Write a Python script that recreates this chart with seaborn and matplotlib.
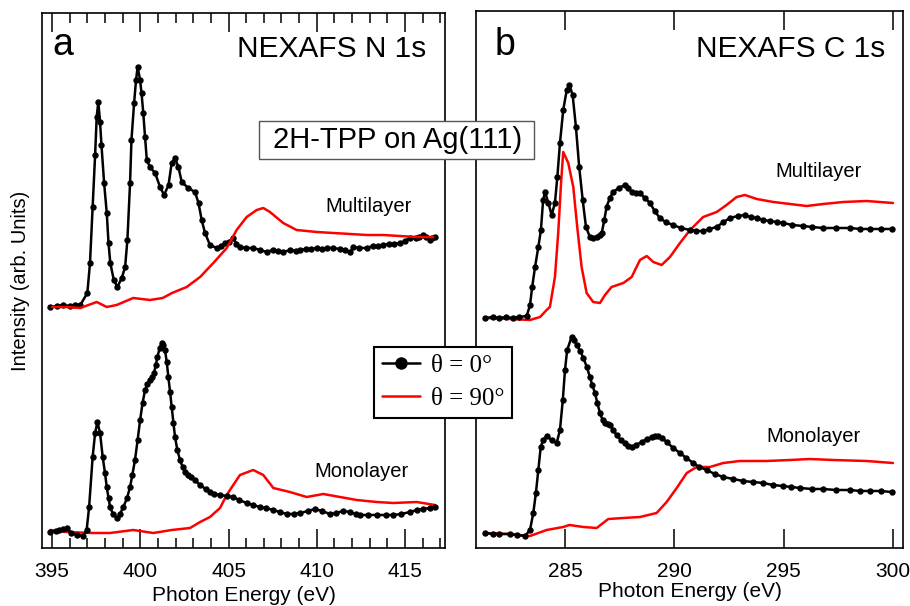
import numpy as np
import pandas as pd
import seaborn as sns
import matplotlib
matplotlib.use("Agg")
import matplotlib.pyplot as plt
from matplotlib.ticker import MultipleLocator
from matplotlib.patches import Rectangle

# ---------------- data (photon energy in eV, intensity in arb. units) ----------------
# Panel a: N 1s, multilayer, theta = 0
n_multi_0_x = [394.9, 395.3, 395.6, 396.0, 396.3, 396.6, 397.0, 397.15, 397.3, 397.44, 397.53, 397.62,
               397.72, 397.8, 397.95, 398.1, 398.2, 398.3, 398.5, 398.7, 398.95, 399.14, 399.27, 399.42,
               399.5, 399.65, 399.76, 399.85, 399.99, 400.07, 400.17, 400.27, 400.37, 400.55, 400.84,
               401.12, 401.35, 401.6, 401.78, 401.97, 402.16, 402.35, 402.72, 403.1, 403.3, 403.48,
               403.67, 403.95, 404.33, 404.6, 404.8, 405.0, 405.27, 405.45, 405.65, 406.0, 406.4,
               406.8, 407.16, 407.5, 407.8, 408.1, 408.5, 408.8, 409.05, 409.4, 409.7, 410.0, 410.3,
               410.6, 410.94, 411.3, 411.6, 411.9, 412.07, 412.4, 412.83, 413.2, 413.5, 413.77, 414.1,
               414.4, 414.7, 415.0, 415.28, 415.6, 415.8, 416.04, 416.2, 416.4, 416.55, 416.7]
n_multi_0_y = [241, 242, 243, 242, 243, 243, 255, 285, 341, 393, 431, 446,
               426, 403, 365, 335, 305, 285, 268, 261, 270, 281, 308, 365,
               408, 445, 468, 481, 468, 455, 435, 411, 388, 381, 375,
               361, 353, 363, 385, 390, 381, 366, 360, 356, 345, 328,
               315, 303, 300, 302, 305, 306, 310, 304, 301, 300, 300,
               298, 296, 298, 297, 296, 298, 297, 298, 299, 299, 300, 299,
               300, 300, 299, 298, 296, 301, 300, 300, 302, 302, 303, 304,
               304, 305, 307, 310, 310, 311, 313, 311, 308, 310, 311]
# Panel a: N 1s, multilayer, theta = 90
n_multi_90_x = [395.0, 395.8, 396.6, 397.53, 398.1, 398.66, 399.6, 400.55, 401.27, 401.8, 402.63,
                403.39, 404.14, 404.9, 405.46, 406.03, 406.6, 406.97, 407.35, 408.1, 408.86, 410.0,
                410.94, 411.9, 412.83, 413.77, 414.7, 415.65, 416.6]
n_multi_90_y = [241, 241, 240, 246, 241, 243, 250, 248, 250, 255, 261,
                271, 285, 300, 318, 331, 338, 340, 336, 325, 318, 316,
                315, 314, 313, 313, 312, 311, 311]
# Panel a: N 1s, monolayer, theta = 0
n_mono_0_x = [394.9, 395.2, 395.4, 395.6, 395.83, 396.1, 396.4, 396.77, 396.96, 397.1, 397.3, 397.44,
              397.57, 397.72, 397.87, 398.0, 398.1, 398.2, 398.29, 398.45, 398.67, 398.85, 399.04,
              399.25, 399.42, 399.55, 399.7, 399.85, 399.99, 400.13, 400.27, 400.4, 400.55, 400.66,
              400.78, 400.88, 400.97, 401.1, 401.21, 401.3, 401.4, 401.5, 401.59, 401.69, 401.78,
              401.88, 401.97, 402.1, 402.25, 402.4, 402.54, 402.7, 402.9, 403.1, 403.39, 403.7,
              403.95, 404.2, 404.52, 404.9, 405.27, 405.6, 406.03, 406.4, 406.78, 407.1, 407.54,
              407.9, 408.3, 408.7, 409.05, 409.5, 409.9, 410.3, 410.75, 411.1, 411.5, 411.9, 412.2,
              412.45, 412.9, 413.4, 413.9, 414.34, 414.8, 415.28, 415.7, 416.04, 416.4, 416.7]
n_mono_0_y = [16, 17, 18, 19, 20, 15, 13, 12, 18, 41, 91, 115,
              126, 115, 91, 75, 61, 50, 41, 34, 30, 34, 41,
              50, 61, 73, 88, 108, 128, 145, 158, 164, 168, 171,
              175, 183, 191, 200, 205, 203, 198, 186, 171, 156, 141,
              125, 111, 98, 88, 81, 76, 73, 71, 68, 63, 59,
              56, 54, 53, 52, 51, 48, 45, 43, 41, 40, 38,
              36, 34, 34, 35, 37, 39, 37, 34, 35, 37, 36, 34,
              33, 33, 33, 33, 33, 34, 36, 38, 39, 40, 41]
# Panel a: N 1s, monolayer, theta = 90
n_mono_90_x = [394.9, 395.83, 397.3, 398.29, 399.6, 400.74, 401.78, 402.82, 403.39, 403.95, 404.52,
               404.9, 405.27, 405.65, 406.4, 406.97, 407.54, 408.48, 409.43, 410.37, 411.32, 412.26,
               413.4, 414.34, 415.66, 416.7]
n_mono_90_y = [18, 16, 15, 15, 18, 15, 18, 20, 26, 31, 40,
               53, 63, 73, 78, 73, 60, 56, 51, 54, 51, 48,
               46, 45, 46, 43]

# Panel b: C 1s, multilayer, theta = 0
c_multi_0_x = [281.34, 281.7, 282.0, 282.3, 282.6, 282.9, 283.25, 283.4, 283.5, 283.63, 283.78, 283.9,
               284.0, 284.09, 284.24, 284.39, 284.54, 284.65, 284.77, 284.92, 285.08, 285.2, 285.35,
               285.5, 285.65, 285.81, 285.96, 286.14, 286.3, 286.45, 286.58, 286.68, 286.8, 286.9,
               287.05, 287.2, 287.45, 287.74, 287.9, 288.05, 288.25, 288.43, 288.65, 288.89, 289.1,
               289.34, 289.6, 289.95, 290.3, 290.72, 291.0, 291.32, 291.6, 291.94, 292.25, 292.54,
               292.9, 293.23, 293.5, 293.77, 294.07, 294.37, 294.7, 294.98, 295.4, 295.9, 296.3,
               296.81, 297.4, 298.03, 298.5, 298.95, 299.45, 299.94]
c_multi_0_y = [230, 231, 230, 231, 230, 231, 232, 243, 261, 281, 301, 318,
               348, 356, 345, 333, 345, 371, 405, 438, 458, 463, 453,
               421, 381, 348, 321, 311, 310, 311, 313, 315, 328, 341,
               350, 356, 360, 363, 360, 356, 355, 355, 350, 345, 337,
               330, 326, 323, 320, 318, 317, 317, 319, 321, 326, 330,
               332, 333, 331, 330, 328, 327, 326, 325, 323, 322, 321,
               320, 320, 320, 319, 319, 319, 319]
# Panel b: C 1s, multilayer, theta = 90
c_multi_90_x = [281.34, 282.5, 283.4, 283.86, 284.16, 284.31, 284.54, 284.69, 284.82, 284.92, 285.15,
                285.38, 285.56, 285.76, 285.99, 286.29, 286.6, 286.83, 287.13, 287.67, 288.05, 288.43,
                288.74, 289.04, 289.42, 289.8, 290.26, 290.72, 291.32, 291.94, 292.39, 292.85, 293.23,
                293.77, 294.53, 295.29, 296.05, 296.81, 297.73, 298.8, 300.0]
c_multi_90_y = [230, 229, 228, 231, 238, 241, 271, 315, 365, 396, 385,
                361, 321, 281, 255, 246, 245, 253, 261, 265, 271, 288,
                292, 286, 283, 291, 305, 318, 331, 336, 343, 351, 353,
                349, 346, 344, 342, 344, 346, 347, 345]
# Panel b: C 1s, monolayer, theta = 0
c_mono_0_x = [281.34, 281.7, 282.0, 282.49, 282.8, 283.17, 283.4, 283.55, 283.67, 283.78, 283.89,
              284.0, 284.16, 284.39, 284.62, 284.77, 284.9, 285.0, 285.1, 285.3, 285.42, 285.53,
              285.7, 285.84, 286.0, 286.14, 286.25, 286.37, 286.48, 286.6, 286.72, 286.83, 286.95,
              287.06, 287.2, 287.36, 287.55, 287.74, 287.9, 288.05, 288.25, 288.5, 288.75, 288.96,
              289.1, 289.27, 289.45, 289.65, 289.95, 290.26, 290.55, 290.87, 291.15, 291.48, 291.85,
              292.24, 292.7, 293.15, 293.6, 294.07, 294.5, 294.98, 295.35, 295.75, 296.3, 296.81,
              297.4, 298.03, 298.5, 298.95, 299.45, 299.94]
c_mono_0_y = [15, 14, 14, 14, 13, 12, 18, 35, 55, 78, 101,
              108, 112, 108, 105, 118, 148, 178, 198, 211, 208, 203,
              197, 190, 181, 171, 163, 155, 145, 135, 128, 125, 124,
              123, 118, 113, 108, 105, 102, 101, 103, 106, 109, 111,
              112, 112, 110, 106, 100, 95, 90, 85, 81, 78, 74,
              71, 69, 67, 66, 65, 63, 62, 61, 60, 59, 59,
              58, 58, 57, 57, 57, 56]
# Panel b: C 1s, monolayer, theta = 90
c_mono_90_x = [281.34, 282.4, 283.4, 284.16, 284.92, 285.2, 285.84, 286.45, 286.98, 287.67, 288.43,
               289.19, 289.65, 290.11, 290.57, 291.02, 291.63, 292.24, 293.0, 294.22, 295.29, 296.2,
               297.27, 298.8, 300.0]
c_mono_90_y = [15, 14, 12, 18, 21, 23, 21, 20, 29, 30, 31,
               35, 46, 60, 75, 81, 81, 85, 87, 87, 88, 89,
               88, 87, 85]

n_ticks = [395, 400, 405, 410, 415]
c_ticks = [285, 290, 295, 300]
legend_labels = ["θ = 0°", "θ = 90°"]

# ---------------- figure ----------------
sns.set_style("white")
plt.rcParams["font.family"] = ["Liberation Sans", "DejaVu Sans"]
plt.rcParams["text.color"] = "black"
plt.rcParams["axes.labelcolor"] = "black"
plt.rcParams["xtick.color"] = "black"
plt.rcParams["ytick.color"] = "black"

W, H = 910, 606
fig = plt.figure(figsize=(W / 100, H / 100), dpi=100)

def px_axes(x0, y0, x1, y1):
    return fig.add_axes([x0 / W, 1 - y1 / H, (x1 - x0) / W, (y1 - y0) / H])

axL = px_axes(42, 13, 445, 548)
axR = px_axes(476, 11, 903, 548)

black_kw = dict(color="black", lw=1.8, marker="o", markersize=4.6, markeredgewidth=0,
                estimator=None, legend=False)
red_kw = dict(color="#ff0000", lw=1.8, estimator=None, legend=False)

sns.lineplot(x=n_multi_0_x, y=n_multi_0_y, ax=axL, **black_kw)
sns.lineplot(x=n_multi_90_x, y=n_multi_90_y, ax=axL, **red_kw)
sns.lineplot(x=n_mono_90_x, y=n_mono_90_y, ax=axL, **red_kw)
sns.lineplot(x=n_mono_0_x, y=n_mono_0_y, ax=axL, **black_kw)

sns.lineplot(x=c_multi_90_x, y=c_multi_90_y, ax=axR, **red_kw)
sns.lineplot(x=c_multi_0_x, y=c_multi_0_y, ax=axR, **black_kw)
sns.lineplot(x=c_mono_90_x, y=c_mono_90_y, ax=axR, **red_kw)
sns.lineplot(x=c_mono_0_x, y=c_mono_0_y, ax=axR, **black_kw)

axL.set_xlim(394.43, 417.27)
axL.set_ylim(0, 535)
axR.set_xlim(280.93, 300.46)
axR.set_ylim(0, 537)

for ax, ticks in ((axL, n_ticks), (axR, c_ticks)):
    ax.set_xticks(ticks)
    ax.set_xticklabels([str(t) for t in ticks])
    ax.set_yticks([])
    ax.set_xlabel("")
    ax.set_ylabel("")
    ax.tick_params(axis="x", which="major", direction="in", top=True, bottom=True,
                   length=14, width=1.1, pad=10, labelsize=15, colors="black")
    for s in ax.spines.values():
        s.set_linewidth(1.2)
        s.set_color("black")
        s.set_visible(True)

axL.xaxis.set_minor_locator(MultipleLocator(1))
axL.tick_params(axis="x", which="minor", direction="in", top=True, bottom=True,
                length=7, width=1.1)

# panel texts
axL.text(0.025, 0.9215, "a", transform=axL.transAxes, fontsize=27, ha="left", va="baseline")
axL.text(0.953, 0.918, "NEXAFS N 1s", transform=axL.transAxes, fontsize=21.5, ha="right", va="baseline")
axR.text(0.0445, 0.918, "b", transform=axR.transAxes, fontsize=27, ha="left", va="baseline")
axR.text(0.958, 0.914, "NEXAFS C 1s", transform=axR.transAxes, fontsize=21.5, ha="right", va="baseline")

axL.text(0.702, 0.628, "Multilayer", transform=axL.transAxes, fontsize=14.5, ha="left", va="baseline")
axL.text(0.677, 0.133, "Monolayer", transform=axL.transAxes, fontsize=14.5, ha="left", va="baseline")
axR.text(0.700, 0.691, "Multilayer", transform=axR.transAxes, fontsize=14.5, ha="left", va="baseline")
axR.text(0.681, 0.197, "Monolayer", transform=axR.transAxes, fontsize=14.5, ha="left", va="baseline")

# axis labels
fig.text(21 / W, 1 - 281 / H, "Intensity (arb. Units)", rotation=90, fontsize=14.5,
         ha="center", va="center")
fig.text(243.5 / W, 1 - 601 / H, "Photon Energy (eV)", fontsize=15, ha="center", va="baseline")
fig.text(689.5 / W, 1 - 597 / H, "Photon Energy (eV)", fontsize=15, ha="center", va="baseline")

# sample box
fig.add_artist(Rectangle((259 / W, 1 - 159 / H), 275 / W, 38 / H, transform=fig.transFigure,
                         facecolor="white", edgecolor="#555555", lw=1.0, zorder=4))
fig.text(398 / W, 1 - 148 / H, "2H-TPP on Ag(111)", fontsize=21, ha="center", va="baseline",
         zorder=5)

# legend
handles = [axL.lines[0], axL.lines[1]]
leg = fig.legend(handles, legend_labels, loc="upper left",
                 bbox_to_anchor=(374 / W, 1 - 347 / H), bbox_transform=fig.transFigure,
                 borderaxespad=0, frameon=True, fancybox=False, framealpha=1,
                 edgecolor="black", handlelength=1.55, handletextpad=0.42,
                 labelspacing=0.42, borderpad=0.3,
                 prop={"family": "Liberation Serif", "size": 18})
leg.get_frame().set_linewidth(1.5)
for h in leg.legend_handles:
    if h.get_marker() not in (None, "None", ""):
        h.set_markersize(9)
leg.set_zorder(6)

fig.savefig("out.png", dpi=100)
